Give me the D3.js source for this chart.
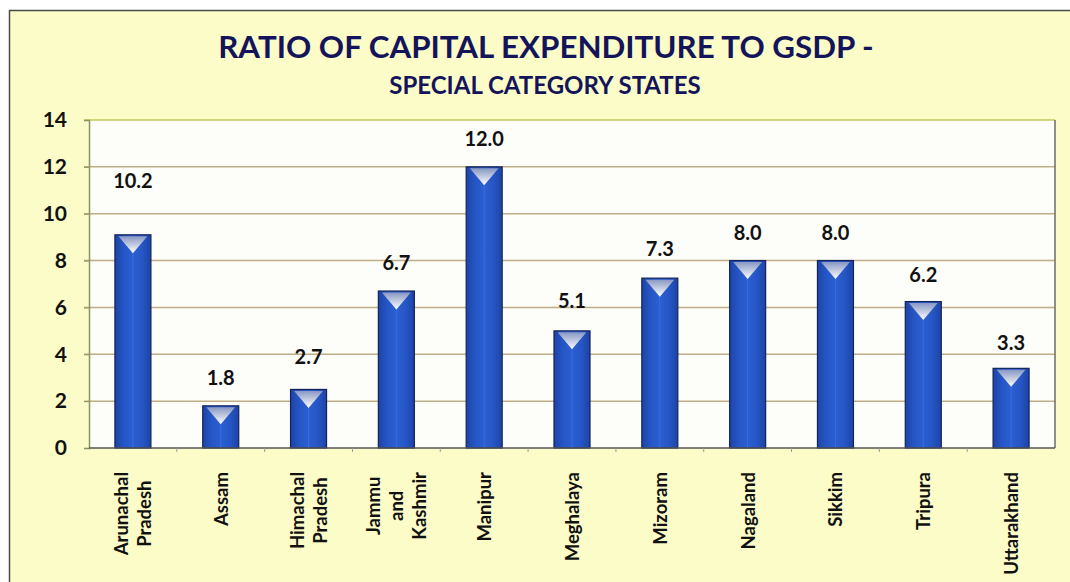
<!DOCTYPE html>
<html lang="en">
<head>
<meta charset="utf-8" />
<title>Ratio of Capital Expenditure to GSDP</title>
<script src="https://d3js.org/d3.v7.min.js"></script>
<style>
  body { margin: 0; background: #fff; }
  svg { display: block; font-family: Lato, "Open Sans", sans-serif; }
</style>
</head>
<body>
<div id="chart"></div>
<script>
// Data
const states = ["Arunachal Pradesh", "Assam", "Himachal Pradesh", "Jammu and Kashmir", "Manipur",
  "Meghalaya", "Mizoram", "Nagaland", "Sikkim", "Tripura", "Uttarakhand"];
// label lines as written on the axis
const stateLines = [["Arunachal", "Pradesh"], ["Assam"], ["Himachal", "Pradesh"], ["Jammu", "and", "Kashmir"],
  ["Manipur"], ["Meghalaya"], ["Mizoram"], ["Nagaland"], ["Sikkim"], ["Tripura"], ["Uttarakhand"]];
// bar heights as drawn
const barValues = [9.1, 1.8, 2.5, 6.7, 12.0, 5.0, 7.25, 8.0, 8.0, 6.25, 3.4];
// values printed above the bars
const labelValues = [10.2, 1.8, 2.7, 6.7, 12.0, 5.1, 7.3, 8.0, 8.0, 6.2, 3.3];
const yTicks = [0, 2, 4, 6, 8, 10, 12, 14];

const W = 1070, H = 582;
const margin = { top: 120, right: 15, bottom: 134, left: 89 };
const width = W - margin.left - margin.right;
const height = H - margin.top - margin.bottom;

const svg = d3.select("#chart").append("svg")
  .attr("width", W)
  .attr("height", H);

const defs = svg.append("defs");
const barGrad = defs.append("linearGradient").attr("id", "barGrad")
  .attr("x1", "0").attr("x2", "1").attr("y1", "0").attr("y2", "0");
barGrad.append("stop").attr("offset", "0%").attr("stop-color", "#1d44a6");
barGrad.append("stop").attr("offset", "25%").attr("stop-color", "#2656c6");
barGrad.append("stop").attr("offset", "50%").attr("stop-color", "#2c5fd2");
barGrad.append("stop").attr("offset", "75%").attr("stop-color", "#2656c6");
barGrad.append("stop").attr("offset", "100%").attr("stop-color", "#1d44a6");

const triGrad = defs.append("linearGradient").attr("id", "triGrad")
  .attr("x1", "0").attr("x2", "0").attr("y1", "0").attr("y2", "1");
triGrad.append("stop").attr("offset", "0%").attr("stop-color", "#8898c4");
triGrad.append("stop").attr("offset", "100%").attr("stop-color", "#ffffff");

// outer frame
svg.append("rect")
  .attr("x", 9.5).attr("y", 10.5)
  .attr("width", W).attr("height", H)
  .attr("fill", "#fcfcc8")
  .attr("stroke", "#4a4a4a")
  .attr("stroke-width", 1.5);

// titles
svg.append("text")
  .attr("x", 546).attr("y", 58)
  .attr("text-anchor", "middle")
  .attr("font-size", 31.3).attr("font-weight", "bold")
  .attr("fill", "#14145a")
  .text("RATIO OF CAPITAL EXPENDITURE TO GSDP -");

svg.append("text")
  .attr("x", 545).attr("y", 94)
  .attr("text-anchor", "middle")
  .attr("font-size", 24).attr("font-weight", "bold")
  .attr("fill", "#14145a")
  .text("SPECIAL CATEGORY STATES");

const g = svg.append("g")
  .attr("transform", `translate(${margin.left},${margin.top})`);

const x = d3.scaleBand()
  .domain(states)
  .range([0, width])
  .paddingInner(0.59)
  .paddingOuter(0.295);

const y = d3.scaleLinear()
  .domain([0, 14])
  .range([height, 0]);

// plot background
g.append("rect")
  .attr("width", width).attr("height", height)
  .attr("fill", "#fdfdf9");

// gridlines
g.append("g")
  .selectAll("line")
  .data(yTicks.filter(d => d > 0))
  .join("line")
  .attr("x1", -5).attr("x2", width)
  .attr("y1", d => y(d)).attr("y2", d => y(d))
  .attr("stroke", d => d === 14 ? "#c2c85a" : "#c0ad86")
  .attr("stroke-width", 1.5);

// y axis
const yAxis = g.append("g")
  .call(d3.axisLeft(y).tickValues(yTicks).tickSize(5).tickPadding(17));
yAxis.select(".domain").attr("stroke", "#8a9460").attr("stroke-width", 1.5);
yAxis.selectAll(".tick line").attr("stroke", "#8a9460");
yAxis.selectAll("text")
  .attr("font-family", "Lato, 'Open Sans', sans-serif")
  .attr("font-size", 21).attr("font-weight", "bold")
  .attr("fill", "#111");

// right border of plot
g.append("line")
  .attr("x1", width).attr("x2", width)
  .attr("y1", 0).attr("y2", height)
  .attr("stroke", "#6a6a6a").attr("stroke-width", 1.5);

// bars
const bars = g.append("g")
  .selectAll("g")
  .data(states)
  .join("g")
  .attr("transform", d => `translate(${x(d)},0)`);

bars.append("rect")
  .attr("y", (d, i) => y(barValues[i]))
  .attr("width", x.bandwidth())
  .attr("height", (d, i) => height - y(barValues[i]))
  .attr("fill", "url(#barGrad)")
  .attr("stroke", "#14245a")
  .attr("stroke-width", 1.2);

// light stripe in the middle of each bar
bars.append("line")
  .attr("x1", x.bandwidth() * 0.5).attr("x2", x.bandwidth() * 0.5)
  .attr("y1", (d, i) => y(barValues[i]) + 2)
  .attr("y2", height)
  .attr("stroke", "#3b78e6").attr("stroke-width", 1).attr("opacity", 0.6);

// triangle marker at top
bars.append("path")
  .attr("d", (d, i) => {
    const top = y(barValues[i]) + 1.5;
    const bw = x.bandwidth();
    return `M${bw * 0.1},${top} L${bw * 0.9},${top} L${bw * 0.5},${top + 17} Z`;
  })
  .attr("fill", "url(#triGrad)");

// value labels
bars.append("text")
  .attr("x", x.bandwidth() / 2)
  .attr("y", (d, i) => y(labelValues[i]) - 28)
  .attr("dy", "0.35em")
  .attr("text-anchor", "middle")
  .attr("font-size", 20).attr("font-weight", "bold")
  .attr("fill", "#111")
  .text((d, i) => labelValues[i].toFixed(1));

// x axis
const xAxis = g.append("g")
  .attr("transform", `translate(0,${height})`);
xAxis.append("line")
  .attr("x1", 0).attr("x2", width)
  .attr("stroke", "#555").attr("stroke-width", 1.5);
xAxis.selectAll(".sep")
  .data(d3.range(1, states.length))
  .join("line")
  .attr("class", "sep")
  .attr("x1", i => x.step() * i).attr("x2", i => x.step() * i)
  .attr("y1", 0).attr("y2", 4)
  .attr("stroke", "#999");

// rotated category labels, lines stacked and centred within the block
const lineGap = 23;
xAxis.selectAll(".cat")
  .data(states)
  .join("g")
  .attr("class", "cat")
  .each(function (d, i) {
    const lines = stateLines[i];
    const cx = x(d) + x.bandwidth() / 2;
    const grp = d3.select(this);
    const texts = lines.map(t => grp.append("text")
      .attr("font-size", 18.5).attr("font-weight", "bold")
      .attr("fill", "#111")
      .attr("text-anchor", "middle")
      .text(t));
    const maxLen = d3.max(texts, t => t.node().getComputedTextLength());
    const centerY = 24 + maxLen / 2;
    texts.forEach((t, k) => {
      const off = (k - (lines.length - 1) / 2) * lineGap;
      t.attr("transform", `translate(${cx + off + 7},${centerY}) rotate(-90)`);
    });
  });
</script>
</body>
</html>
